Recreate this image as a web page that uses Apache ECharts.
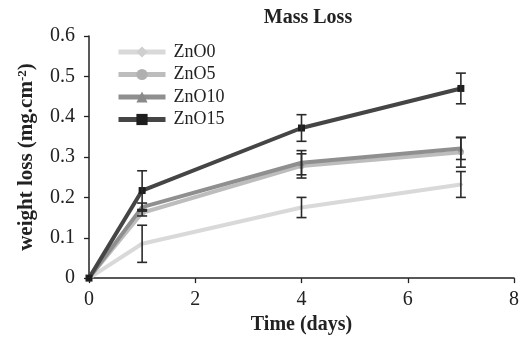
<!DOCTYPE html>
<html><head><meta charset="utf-8">
<script src="https://cdn.jsdelivr.net/npm/echarts@6/dist/echarts.min.js"></script>
<style>html,body{margin:0;padding:0;background:#fff}#c{width:522px;height:340px}</style>
</head><body><div id="c"></div>
<script>
const days = [0, 1, 4, 7];
const seriesNames = ['ZnO0', 'ZnO5', 'ZnO10', 'ZnO15'];
const ZnO0 = [0, 0.085, 0.175, 0.232];
const ZnO5 = [0, 0.162, 0.278, 0.312];
const ZnO10 = [0, 0.176, 0.286, 0.321];
const ZnO15 = [0, 0.217, 0.372, 0.470];
const errZnO0 = [0, 0.046, 0.025, 0.032];
const errZnO5 = [0, 0.008, 0.03, 0.037];
const errZnO10 = [0, 0.01, 0.03, 0.027];
const errZnO15 = [0, 0.049, 0.033, 0.038];
const xTicks = [0, 2, 4, 6, 8];
const yTicks = [0, 0.1, 0.2, 0.3, 0.4, 0.5, 0.6];

const values = [ZnO0, ZnO5, ZnO10, ZnO15];
const errs = [errZnO0, errZnO5, errZnO10, errZnO15];
const colors = ['#d9d9d9', '#bdbdbd', '#8f8f8f', '#454545'];
const markColors = ['#cfcfcf', '#b0b0b0', '#8a8a8a', '#1e1e1e'];
const symbols = ['diamond', 'circle', 'triangle', 'rect'];
const symSizes = [5, 6, 6, 7];
const font = '"Liberation Serif", "Times New Roman", serif';

const series = [];
values.forEach((v, i) => {
  series.push({
    name: seriesNames[i], type: 'line', z: 2 + i,
    data: days.map((d, j) => [d, v[j]]),
    lineStyle: {color: colors[i], width: 4},
    itemStyle: {color: markColors[i]},
    symbol: symbols[i], symbolSize: symSizes[i], showSymbol: true
  });
});
const errData = [];
values.forEach((v, i) => {
  days.forEach((d, j) => { if (errs[i][j] > 0) errData.push([d, v[j] - errs[i][j], v[j] + errs[i][j]]); });
});
series.push({
  type: 'custom', z: 10, silent: true,
  data: errData,
  renderItem: function (params, api) {
    const x = api.value(0);
    const lo = api.coord([x, api.value(1)]);
    const hi = api.coord([x, api.value(2)]);
    const w = 5;
    const st = {stroke: '#2a2a2a', lineWidth: 1.6};
    return {type: 'group', children: [
      {type: 'line', shape: {x1: lo[0], y1: lo[1], x2: hi[0], y2: hi[1]}, style: st},
      {type: 'line', shape: {x1: lo[0] - w, y1: lo[1], x2: lo[0] + w, y2: lo[1]}, style: st},
      {type: 'line', shape: {x1: hi[0] - w, y1: hi[1], x2: hi[0] + w, y2: hi[1]}, style: st}
    ]};
  }
});

const chart = echarts.init(document.getElementById('c'), null, {renderer: 'canvas'});
chart.setOption({
  animation: false,
  backgroundColor: '#fff',
  title: {text: 'Mass Loss', left: 303, textAlign: 'center', top: 3,
    textStyle: {fontFamily: font, fontWeight: 'bold', fontSize: 20, color: '#222'}},
  legend: {
    data: seriesNames, orient: 'vertical', left: 111, top: 38,
    itemWidth: 47, itemHeight: 14, itemGap: 4.5,
    lineStyle: {width: 5},
    textStyle: {fontFamily: font, fontSize: 18, color: '#222', padding: [0, 0, 0, 3]}
  },
  grid: {left: 89, right: 4, top: 36, bottom: 61, containLabel: false},
  xAxis: {
    type: 'value', min: xTicks[0], max: xTicks[xTicks.length - 1], interval: 2,
    name: 'Time (days)', nameLocation: 'middle', nameGap: 35,
    nameTextStyle: {fontFamily: font, fontWeight: 'bold', fontSize: 20, color: '#222'},
    axisLine: {lineStyle: {color: '#222', width: 1.5}},
    axisTick: {show: true, inside: false, length: 5, lineStyle: {color: '#222', width: 1.3}},
    axisLabel: {fontFamily: font, fontSize: 20, color: '#222', margin: 12},
    splitLine: {show: false}
  },
  yAxis: {
    type: 'value', min: yTicks[0], max: yTicks[yTicks.length - 1], interval: 0.1,
    name: '{a|weight loss (mg.cm}{s|-2}{a|)}', nameLocation: 'middle', nameGap: 51, nameRotate: 90,
    nameTextStyle: {rich: {
      a: {fontFamily: font, fontWeight: 'bold', fontSize: 21, color: '#222'},
      s: {fontFamily: font, fontWeight: 'bold', fontSize: 13, color: '#222', verticalAlign: 'top', padding: [0, 0, 9, 0]}
    }},
    axisLine: {show: true, lineStyle: {color: '#222', width: 1.5}},
    axisTick: {show: true, inside: false, length: 5, lineStyle: {color: '#222', width: 1.3}},
    axisLabel: {fontFamily: font, fontSize: 20, color: '#222', margin: 14,
      formatter: v => String(Math.round(v * 10) / 10)},
    splitLine: {show: false}
  },
  series: series
});
</script></body></html>
